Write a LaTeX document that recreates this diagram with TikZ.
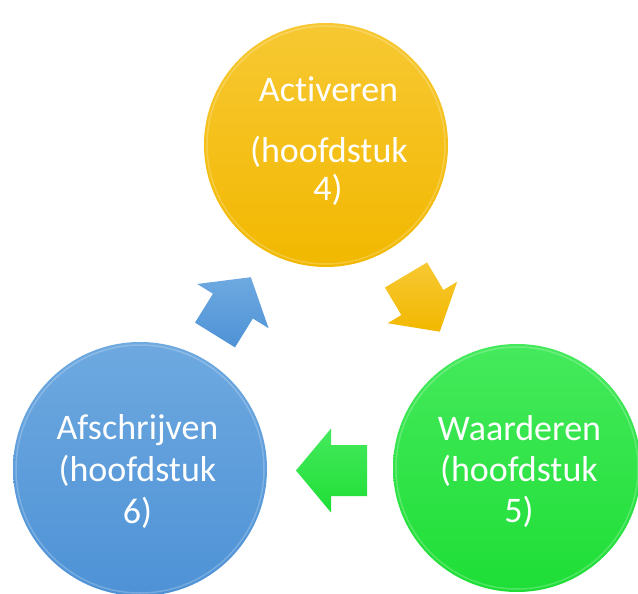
\documentclass[tikz,border=0pt]{standalone}
\usepackage{fontspec}
\setmainfont[Ligatures=NoCommon]{Carlito}
\definecolor{yelTop}{HTML}{F7C833}
\definecolor{yelBot}{HTML}{F2B800}
\definecolor{bluTop}{HTML}{6EA9E0}
\definecolor{bluBot}{HTML}{4E92D6}
\definecolor{grnTop}{HTML}{45EA5C}
\definecolor{grnBot}{HTML}{1EDE36}
\newcommand\fatarrowpath[4]{(0,#2/2) -- (#1-#4,#2/2) -- (#1-#4,#3/2) -- (#1,0) -- (#1-#4,-#3/2) -- (#1-#4,-#2/2) -- (0,-#2/2) -- cycle}
\begin{document}
\begin{tikzpicture}[x=1pt,y=-1pt,
  ball/.style={circle, inner sep=0pt, draw=none},
  rim/.style={white, opacity=0.22, line width=1.5pt},
  lbl/.style={anchor=base, text=white, inner sep=0pt, font=\fontsize{36}{40}\selectfont}]
\useasboundingbox (0,0) rectangle (638,594);
\fill[white] (0,0) rectangle (638,594);
% circles
\node[ball, minimum size=244pt, top color=yelTop, bottom color=yelBot] (act) at (326,145) {};
\node[ball, minimum size=254pt, top color=bluTop, bottom color=bluBot] (afs) at (140,469) {};
\node[ball, minimum size=248pt, top color=grnTop, bottom color=grnBot] (waa) at (517,468) {};
\draw[rim] (act.center) circle (119pt);
\draw[rim] (afs.center) circle (124pt);
\draw[rim] (waa.center) circle (121pt);
% labels
\node[lbl] (act1) at (328.5,102) {Activeren};
\node[lbl] (act2) at (329,162) {(hoofdstuk};
\node[lbl] (act3) at (328,200) {4)};
\node[lbl] (afs1) at (137.5,439) {Afschrijven};
\node[lbl] (afs2) at (137.5,481) {(hoofdstuk};
\node[lbl] (afs3) at (137.5,523) {6)};
\node[lbl] (waa1) at (519.5,440) {Waarderen};
\node[lbl] (waa2) at (519,481) {(hoofdstuk};
\node[lbl] (waa3) at (519,522) {5)};
% arrows
\coordinate (yelTail) at (406,275);
\coordinate (grnTail) at (367,470.5);
\coordinate (bluTail) at (215,335);
\begin{scope}[shift={(yelTail)}, rotate=-59.2]
  \shade[top color=yelTop, bottom color=yelBot] \fatarrowpath{66}{49}{81}{34};
\end{scope}
\begin{scope}[shift={(grnTail)}, rotate=180]
  \shade[top color=grnTop, bottom color=grnBot] \fatarrowpath{71}{51}{84}{35};
\end{scope}
\begin{scope}[shift={(bluTail)}, rotate=58.2]
  \shade[top color=bluTop, bottom color=bluBot] \fatarrowpath{68}{47}{84}{34};
\end{scope}
\end{tikzpicture}
\end{document}
